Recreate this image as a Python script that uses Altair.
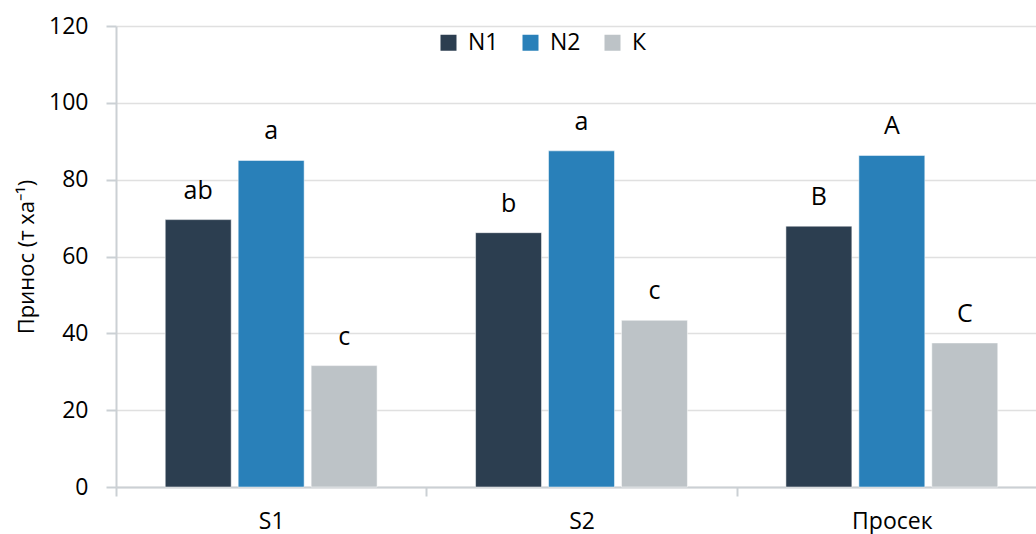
import altair as alt
import pandas as pd

# Yield per treatment and season, with significance letters
groups = ["S1", "S2", "Просек"]
series = ["N1", "N2", "К"]
n1_values = [69.6, 66.2, 67.9]
n2_values = [85.0, 87.5, 86.3]
k_values = [31.6, 43.4, 37.5]
n1_letters = ["ab", "b", "B"]
n2_letters = ["a", "a", "A"]
k_letters = ["c", "c", "C"]
colors = ["#2c3e50", "#2980b9", "#bdc3c7"]
y_ticks = [0, 20, 40, 60, 80, 100, 120]

rows = []
for i, g in enumerate(groups):
    for s, vals, lets in zip(series, [n1_values, n2_values, k_values],
                             [n1_letters, n2_letters, k_letters]):
        rows.append({"group": g, "series": s, "value": vals[i], "letter": lets[i]})
df = pd.DataFrame(rows)

FONT = "Open Sans"
AXIS_COLOR = "#cbd0d4"

x_enc = alt.X(
    "group:N",
    sort=groups,
    scale=alt.Scale(paddingInner=0, paddingOuter=0, range=[0, 931]),
    axis=alt.Axis(
        title=None,
        labelAngle=0,
        tickBand="extent",
        domainColor=AXIS_COLOR,
        domainWidth=2,
        tickColor=AXIS_COLOR,
        tickWidth=2,
        tickSize=9,
        labelFontSize=23,
        labelColor="#000000",
        labelPadding=14,
        grid=False,
    ),
)
xoff_enc = alt.XOffset(
    "series:N", sort=series,
    scale=alt.Scale(paddingInner=0.096, paddingOuter=0.675),
)
y_enc = alt.Y(
    "value:Q",
    scale=alt.Scale(domain=[0, 120], nice=False),
    axis=alt.Axis(
        values=y_ticks,
        title="Принос (т ха⁻¹)",
        titleFontSize=22,
        titleFontWeight="normal",
        titleColor="#000000",
        titlePadding=10,
        labelFontSize=23,
        labelColor="#000000",
        labelPadding=18,
        domainColor=AXIS_COLOR,
        domainWidth=2,
        tickColor=AXIS_COLOR,
        tickWidth=2,
        tickSize=10,
        gridColor="#e0e0e0",
        gridWidth=1.5,
    ),
)

bars = alt.Chart(df).mark_bar(stroke="white", strokeWidth=0.5).encode(
    x=x_enc,
    xOffset=xoff_enc,
    y=y_enc,
    color=alt.Color(
        "series:N",
        sort=series,
        scale=alt.Scale(domain=series, range=colors),
        legend=alt.Legend(
            title=None,
            orient="none",
            direction="horizontal",
            legendX=321,
            legendY=5,
            symbolType="square",
            symbolSize=256,
            symbolStrokeWidth=0,
            symbolOpacity=1,
            labelFontSize=23,
            labelColor="#000000",
            labelOffset=8,
            columnPadding=20,
        ),
    ),
)

letters = alt.Chart(df).mark_text(
    fontSize=25, baseline="alphabetic", dy=-21, color="#000000"
).encode(
    x=alt.X("group:N", sort=groups),
    xOffset=alt.XOffset("series:N", sort=series),
    y=alt.Y("value:Q"),
    text="letter:N",
)

chart = (
    alt.layer(bars, letters)
    .properties(
        width=920,
        height=461,
        autosize=alt.AutoSizeParams(type="none"),
        padding={"left": 116, "top": 26, "right": 0, "bottom": 47},
    )
    .configure(font=FONT)
    .configure_view(stroke=None)
)

chart.save("out.html", embed_options={"renderer": "svg", "actions": False})
